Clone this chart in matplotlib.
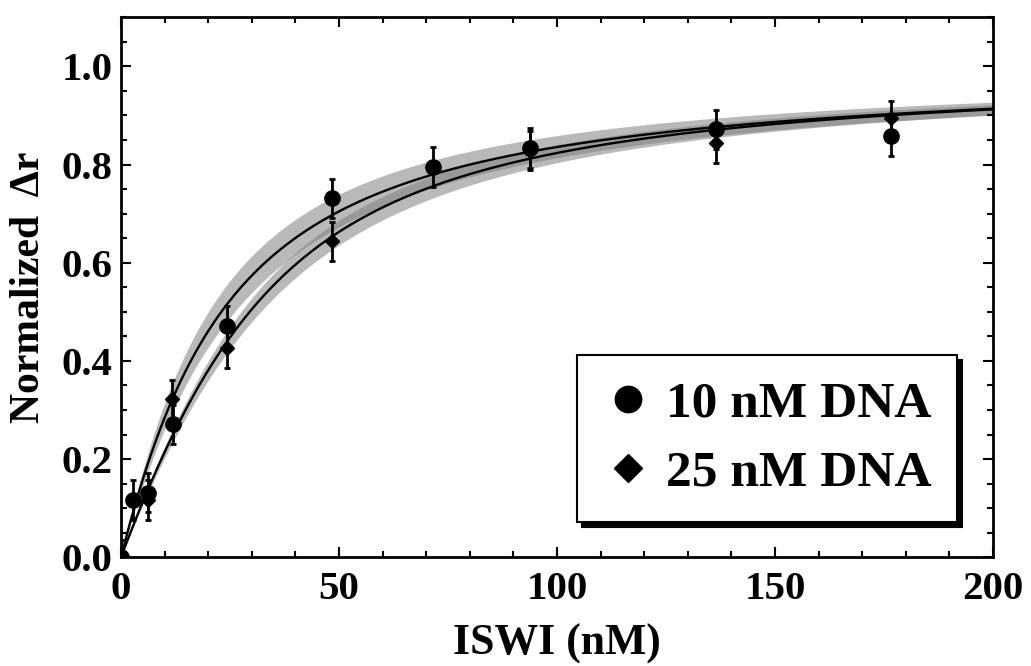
import numpy as np
import matplotlib
matplotlib.use("Agg")
import matplotlib.pyplot as plt
from matplotlib.lines import Line2D
from matplotlib.ticker import MultipleLocator

plt.rcParams['font.family'] = ['Liberation Serif', 'DejaVu Serif']
plt.rcParams['font.weight'] = 'bold'

iswi_10 = [0, 2.7, 6.1, 12.0, 24.4, 48.4, 71.6, 93.9, 136.4, 176.6]
dr_10 = [0.0, 0.117, 0.132, 0.271, 0.472, 0.731, 0.795, 0.834, 0.872, 0.858]
err_10 = [0.035, 0.04, 0.04, 0.04, 0.04, 0.04, 0.04, 0.04, 0.04, 0.04]

iswi_25 = [0, 6.1, 11.8, 24.4, 48.4, 93.9, 136.4, 176.6]
dr_25 = [0.0, 0.117, 0.322, 0.426, 0.644, 0.828, 0.843, 0.894]
err_25 = [0.035, 0.04, 0.04, 0.04, 0.04, 0.04, 0.04, 0.035]

# quadratic binding fits: DNA conc, Kd, Kd range for the grey band
dna_conc = [10, 25]
kd_fit = [18, 17]
kd_band = [(15, 21), (15, 19.5)]
labels = ['10 nM DNA', '25 nM DNA']


def bound(p, d, kd):
    s = d + p + kd
    return (s - np.sqrt(s * s - 4 * d * p)) / (2 * d)


fig = plt.figure(figsize=(10.31, 6.66), dpi=100)
ax = fig.add_axes([0.1174, 0.1632, 0.9631 - 0.1174, 0.974 - 0.1632])

xx = np.linspace(0, 200, 400)
for d, kd, (klo, khi) in zip(dna_conc, kd_fit, kd_band):
    ax.fill_between(xx, bound(xx, d, khi), bound(xx, d, klo),
                    color='0.5', alpha=0.55, lw=0, zorder=1)
for d, kd in zip(dna_conc, kd_fit):
    ax.plot(xx, bound(xx, d, kd), color='black', lw=1.7, zorder=2)

ax.errorbar(iswi_10, dr_10, yerr=err_10, fmt='o', color='black', ms=11,
            elinewidth=2, capsize=2.5, capthick=2, zorder=4)
ax.errorbar(iswi_25, dr_25, yerr=err_25, fmt='D', color='black', ms=7.5,
            elinewidth=2, capsize=2.5, capthick=2, zorder=3)

ax.set_xlim(0, 200)
ax.set_ylim(0, 1.1)
ax.xaxis.set_major_locator(MultipleLocator(50))
ax.xaxis.set_minor_locator(MultipleLocator(10))
ax.yaxis.set_minor_locator(MultipleLocator(0.05))
ax.set_yticks([0, 0.2, 0.4, 0.6, 0.8, 1.0])
ax.set_yticklabels(['0.0', '0.2', '0.4', '0.6', '0.8', '1.0'])
ax.tick_params(which='both', direction='in', top=True, right=True,
               labelsize=29.5, width=1.5)
ax.tick_params(axis='x', pad=10)
ax.tick_params(axis='y', pad=6)
ax.tick_params(which='major', length=7)
ax.tick_params(which='minor', length=4)
for sp in ax.spines.values():
    sp.set_linewidth(2)

ax.set_xlabel('ISWI (nM)', fontsize=31.5, fontweight='bold', labelpad=11)
ax.set_ylabel('Normalized  \u0394r', fontsize=30, fontweight='bold', labelpad=10)

handles = [Line2D([], [], ls='none', marker='o', color='black', ms=19),
           Line2D([], [], ls='none', marker='D', color='black', ms=14.5)]
leg = ax.legend(handles, labels, loc='lower left', bbox_to_anchor=(0.523, 0.065),
                fontsize=37, frameon=True, fancybox=False, edgecolor='black',
                handlelength=1.0, handletextpad=0.23, borderpad=0.5,
                labelspacing=0.42, borderaxespad=0,
                shadow={'color': 'black', 'ox': 3.5, 'oy': -3.5, 'alpha': 1})
leg.get_frame().set_linewidth(1.5)
leg.set_zorder(10)

fig.savefig('out.png', dpi=100)
